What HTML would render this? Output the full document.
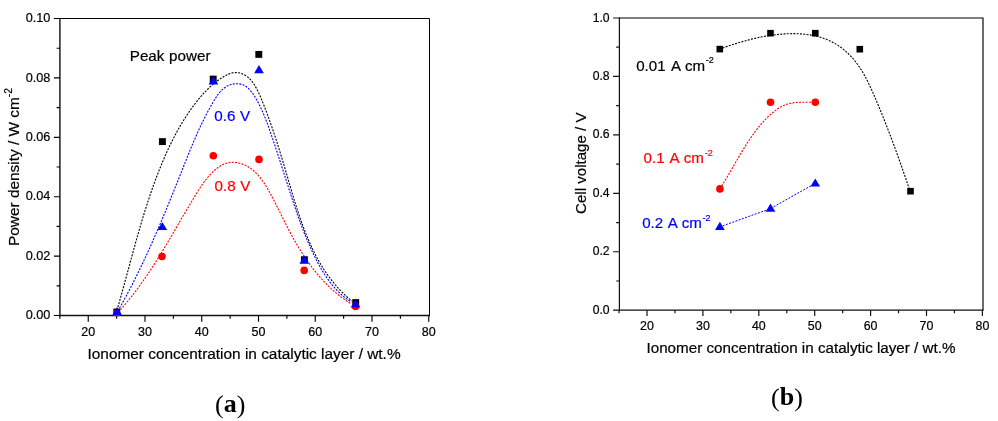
<!DOCTYPE html>
<html><head><meta charset="utf-8"><title>Figure</title>
<style>html,body{margin:0;padding:0;background:#fff}svg{display:block}</style>
</head><body>
<svg width="998" height="421" viewBox="0 0 998 421">
<rect width="998" height="421" fill="#fff"/>
<path d="M59.9,18.5 H429.5 V315.5" fill="none" stroke="#000" stroke-width="1.0" stroke-linejoin="miter"/>
<path d="M59.9,18.0 V315.5 H430.0" fill="none" stroke="#111" stroke-width="1.4"/>
<path d="M59.9,315.50 h-6 M59.9,285.80 h-3.3 M59.9,256.10 h-6 M59.9,226.40 h-3.3 M59.9,196.70 h-6 M59.9,167.00 h-3.3 M59.9,137.30 h-6 M59.9,107.60 h-3.3 M59.9,77.90 h-6 M59.9,48.20 h-3.3 M59.9,18.50 h-6 M59.88,315.5 v3.3 M88.25,315.5 v6.2 M116.62,315.5 v3.3 M145.00,315.5 v6.2 M173.38,315.5 v3.3 M201.75,315.5 v6.2 M230.12,315.5 v3.3 M258.50,315.5 v6.2 M286.88,315.5 v3.3 M315.25,315.5 v6.2 M343.62,315.5 v3.3 M372.00,315.5 v6.2 M400.38,315.5 v3.3 M428.75,315.5 v6.2" stroke="#000" stroke-width="1.15" fill="none"/>
<text x="50.4" y="319.10" font-size="12.7" text-anchor="end" fill="#000" stroke="#000" stroke-width="0.2" font-family="Liberation Sans, Arial, sans-serif" >0.00</text>
<text x="50.4" y="259.70" font-size="12.7" text-anchor="end" fill="#000" stroke="#000" stroke-width="0.2" font-family="Liberation Sans, Arial, sans-serif" >0.02</text>
<text x="50.4" y="200.30" font-size="12.7" text-anchor="end" fill="#000" stroke="#000" stroke-width="0.2" font-family="Liberation Sans, Arial, sans-serif" >0.04</text>
<text x="50.4" y="140.90" font-size="12.7" text-anchor="end" fill="#000" stroke="#000" stroke-width="0.2" font-family="Liberation Sans, Arial, sans-serif" >0.06</text>
<text x="50.4" y="81.50" font-size="12.7" text-anchor="end" fill="#000" stroke="#000" stroke-width="0.2" font-family="Liberation Sans, Arial, sans-serif" >0.08</text>
<text x="50.4" y="22.10" font-size="12.7" text-anchor="end" fill="#000" stroke="#000" stroke-width="0.2" font-family="Liberation Sans, Arial, sans-serif" >0.10</text>
<text x="88.25" y="336" font-size="12.5" text-anchor="middle" fill="#000" stroke="#000" stroke-width="0.2" font-family="Liberation Sans, Arial, sans-serif" >20</text>
<text x="145.00" y="336" font-size="12.5" text-anchor="middle" fill="#000" stroke="#000" stroke-width="0.2" font-family="Liberation Sans, Arial, sans-serif" >30</text>
<text x="201.75" y="336" font-size="12.5" text-anchor="middle" fill="#000" stroke="#000" stroke-width="0.2" font-family="Liberation Sans, Arial, sans-serif" >40</text>
<text x="258.50" y="336" font-size="12.5" text-anchor="middle" fill="#000" stroke="#000" stroke-width="0.2" font-family="Liberation Sans, Arial, sans-serif" >50</text>
<text x="315.25" y="336" font-size="12.5" text-anchor="middle" fill="#000" stroke="#000" stroke-width="0.2" font-family="Liberation Sans, Arial, sans-serif" >60</text>
<text x="372.00" y="336" font-size="12.5" text-anchor="middle" fill="#000" stroke="#000" stroke-width="0.2" font-family="Liberation Sans, Arial, sans-serif" >70</text>
<text x="428.75" y="336" font-size="12.5" text-anchor="middle" fill="#000" stroke="#000" stroke-width="0.2" font-family="Liberation Sans, Arial, sans-serif" >80</text>
<text x="87.5" y="358.7" font-size="15.4" text-anchor="start" fill="#000" stroke="#000" stroke-width="0.2" font-family="Liberation Sans, Arial, sans-serif" >Ionomer concentration in catalytic layer / wt.%</text>
<text transform="translate(19,246) rotate(-90)" font-size="15.4" fill="#000" stroke="#000" stroke-width="0.2" font-family="Liberation Sans, Arial, sans-serif">Power density / W cm<tspan font-size="10.2" dy="-7.2">-2</tspan></text>
<path d="M116.97,310.37 L118.21,306.05 L119.44,301.72 L120.66,297.39 L121.86,293.04 L123.06,288.69 L124.25,284.34 L125.44,279.97 L126.62,275.61 L127.80,271.24 L128.98,266.87 L130.17,262.49 L131.36,258.12 L132.55,253.74 L133.75,249.37 L134.96,244.99 L136.18,240.62 L137.42,236.25 L138.67,231.89 L139.93,227.53 L141.21,223.18 L142.51,218.83 L143.83,214.50 L145.18,210.17 L146.55,205.85 L147.94,201.54 L149.36,197.24 L150.82,192.95 L152.30,188.68 L153.82,184.42 L155.37,180.17 L156.96,175.94 L158.58,171.73 L160.25,167.53 L161.96,163.35 L163.71,159.19 L165.51,155.05 L167.36,150.94 L169.26,146.84 L171.21,142.78 L173.23,138.75 L175.31,134.75 L177.45,130.79 L179.67,126.86 L181.95,122.98 L184.32,119.14 L186.76,115.34 L189.29,111.60 L191.91,107.90 L194.62,104.26 L197.42,100.68 L200.32,97.16 L203.34,93.73 L206.47,90.41 L209.75,87.21 L213.17,84.17 L216.75,81.29 L220.50,78.61 L224.42,76.16 L228.49,74.13 L232.64,72.79 L236.82,72.43 L240.94,73.20 L244.87,75.00 L248.48,77.64 L251.65,80.96 L254.36,84.76 L256.71,88.83 L258.79,93.00 L260.67,97.21 L262.41,101.44 L264.08,105.69 L265.70,109.92 L267.29,114.16 L268.84,118.40 L270.35,122.64 L271.83,126.88 L273.29,131.13 L274.71,135.38 L276.10,139.64 L277.48,143.91 L278.83,148.18 L280.16,152.47 L281.48,156.76 L282.78,161.07 L284.07,165.39 L285.35,169.72 L286.62,174.07 L287.89,178.44 L289.16,182.81 L290.44,187.19 L291.72,191.57 L293.03,195.95 L294.35,200.32 L295.70,204.69 L297.08,209.05 L298.50,213.39 L299.95,217.71 L301.46,222.01 L303.01,226.28 L304.61,230.53 L306.27,234.74 L308.00,238.92 L309.80,243.06 L311.67,247.16 L313.61,251.20 L315.64,255.20 L317.76,259.15 L319.97,263.04 L322.28,266.87 L324.69,270.64 L327.21,274.33 L329.84,277.96 L332.59,281.52 L335.46,284.99 L338.45,288.39 L341.58,291.70 L344.84,294.92 L348.24,298.05 L351.79,301.09" fill="none" stroke="#000" stroke-width="1.1" stroke-dasharray="2 1.3"/>
<path d="M117.90,311.01 L120.03,307.27 L122.13,303.50 L124.20,299.72 L126.25,295.92 L128.28,292.11 L130.28,288.28 L132.26,284.43 L134.21,280.57 L136.14,276.70 L138.06,272.81 L139.95,268.91 L141.82,265.00 L143.67,261.08 L145.50,257.14 L147.32,253.20 L149.12,249.25 L150.90,245.29 L152.66,241.32 L154.41,237.34 L156.15,233.36 L157.87,229.37 L159.58,225.37 L161.27,221.37 L162.96,217.37 L164.63,213.36 L166.29,209.36 L167.94,205.35 L169.58,201.33 L171.22,197.32 L172.84,193.31 L174.46,189.29 L176.07,185.28 L177.68,181.27 L179.27,177.27 L180.87,173.27 L182.46,169.27 L184.05,165.27 L185.63,161.28 L187.23,157.30 L188.83,153.32 L190.45,149.34 L192.10,145.37 L193.77,141.41 L195.47,137.44 L197.21,133.49 L199.00,129.54 L200.83,125.59 L202.72,121.65 L204.67,117.72 L206.69,113.79 L208.77,109.86 L210.94,105.94 L213.18,102.02 L215.53,98.16 L218.05,94.48 L220.80,91.12 L223.84,88.24 L227.25,85.95 L231.04,84.41 L235.06,83.67 L239.10,83.79 L242.97,84.83 L246.48,86.81 L249.63,89.60 L252.45,92.99 L254.99,96.80 L257.29,100.82 L259.38,104.89 L261.31,108.91 L263.09,112.92 L264.74,116.90 L266.30,120.88 L267.78,124.86 L269.21,128.86 L270.61,132.87 L272.00,136.90 L273.38,140.96 L274.75,145.04 L276.11,149.13 L277.46,153.24 L278.81,157.37 L280.15,161.50 L281.49,165.64 L282.82,169.78 L284.15,173.93 L285.47,178.08 L286.80,182.23 L288.13,186.37 L289.46,190.51 L290.79,194.64 L292.13,198.76 L293.49,202.87 L294.86,206.97 L296.25,211.06 L297.66,215.14 L299.10,219.21 L300.58,223.26 L302.09,227.30 L303.63,231.33 L305.23,235.34 L306.87,239.34 L308.56,243.32 L310.30,247.28 L312.11,251.23 L313.97,255.15 L315.91,259.06 L317.92,262.94 L320.01,266.77 L322.20,270.54 L324.49,274.24 L326.89,277.86 L329.42,281.38 L332.07,284.78 L334.86,288.06 L337.81,291.19 L340.91,294.18 L344.17,296.99 L347.61,299.62 L351.24,302.06" fill="none" stroke="#00f" stroke-width="1.1" stroke-dasharray="2 1.3"/>
<path d="M118.12,312.20 L120.31,309.79 L122.46,307.37 L124.58,304.92 L126.67,302.45 L128.73,299.96 L130.75,297.45 L132.75,294.93 L134.71,292.38 L136.65,289.82 L138.57,287.24 L140.46,284.65 L142.32,282.04 L144.17,279.41 L145.99,276.78 L147.79,274.12 L149.57,271.46 L151.33,268.78 L153.07,266.09 L154.80,263.40 L156.52,260.69 L158.22,257.97 L159.90,255.24 L161.58,252.50 L163.24,249.76 L164.90,247.01 L166.54,244.26 L168.18,241.49 L169.82,238.73 L171.44,235.96 L173.07,233.18 L174.69,230.41 L176.31,227.63 L177.93,224.84 L179.55,222.06 L181.17,219.28 L182.79,216.50 L184.42,213.72 L186.05,210.94 L187.69,208.16 L189.33,205.39 L190.99,202.62 L192.65,199.85 L194.32,197.09 L196.00,194.34 L197.70,191.59 L199.43,188.86 L201.21,186.16 L203.04,183.50 L204.94,180.89 L206.93,178.33 L209.02,175.85 L211.23,173.45 L213.58,171.14 L216.06,168.96 L218.66,166.98 L221.39,165.27 L224.24,163.90 L227.20,162.93 L230.24,162.40 L233.34,162.29 L236.46,162.55 L239.54,163.17 L242.56,164.11 L245.48,165.34 L248.25,166.83 L250.87,168.56 L253.34,170.50 L255.67,172.63 L257.87,174.93 L259.96,177.38 L261.95,179.97 L263.84,182.67 L265.64,185.45 L267.36,188.31 L269.02,191.21 L270.63,194.15 L272.19,197.09 L273.72,200.02 L275.21,202.94 L276.68,205.84 L278.13,208.73 L279.57,211.60 L280.99,214.47 L282.41,217.32 L283.83,220.15 L285.26,222.98 L286.69,225.80 L288.13,228.61 L289.59,231.41 L291.08,234.20 L292.59,236.99 L294.14,239.77 L295.71,242.55 L297.33,245.31 L298.98,248.07 L300.67,250.80 L302.40,253.53 L304.16,256.23 L305.96,258.91 L307.81,261.56 L309.69,264.19 L311.62,266.79 L313.59,269.36 L315.60,271.89 L317.65,274.38 L319.75,276.84 L321.89,279.25 L324.08,281.62 L326.32,283.94 L328.60,286.21 L330.93,288.43 L333.31,290.59 L335.74,292.70 L338.22,294.74 L340.75,296.72 L343.33,298.64 L345.96,300.49 L348.65,302.27 L351.39,303.98" fill="none" stroke="#f00" stroke-width="1.1" stroke-dasharray="2 1.3"/>
<clipPath id="ca"><rect x="60" y="18" width="370" height="298.2"/></clipPath><g clip-path="url(#ca)">
<rect x="113.35" y="308.55" width="6.9" height="6.9" fill="#000"/>
<rect x="158.95" y="138.15" width="6.9" height="6.9" fill="#000"/>
<rect x="209.75" y="75.65" width="6.9" height="6.9" fill="#000"/>
<rect x="255.35" y="50.95" width="6.9" height="6.9" fill="#000"/>
<rect x="300.95" y="256.25" width="6.9" height="6.9" fill="#000"/>
<rect x="352.25" y="299.15" width="6.9" height="6.9" fill="#000"/>
<circle cx="116.80" cy="313.50" r="3.8" fill="#f00"/>
<circle cx="162.00" cy="256.50" r="3.8" fill="#f00"/>
<circle cx="213.30" cy="155.80" r="3.8" fill="#f00"/>
<circle cx="259.00" cy="159.40" r="3.8" fill="#f00"/>
<circle cx="304.20" cy="270.40" r="3.8" fill="#f00"/>
<circle cx="355.60" cy="306.50" r="3.8" fill="#f00"/>
<path d="M117.10,307.00 L121.95,315.20 L112.25,315.20 Z" fill="#00f"/>
<path d="M162.30,222.00 L167.15,230.10 L157.45,230.10 Z" fill="#00f"/>
<path d="M213.40,76.30 L218.25,84.40 L208.55,84.40 Z" fill="#00f"/>
<path d="M259.00,64.90 L263.85,73.20 L254.15,73.20 Z" fill="#00f"/>
<path d="M304.30,255.60 L309.15,263.80 L299.45,263.80 Z" fill="#00f"/>
<path d="M355.50,299.80 L360.35,307.60 L350.65,307.60 Z" fill="#00f"/>
</g>
<text font-size="15.2" fill="#000" stroke="#000" stroke-width="0.2" font-family="Liberation Sans, Arial, sans-serif"><tspan x="129.75" y="60.90">Peak</tspan> <tspan x="169.12" y="60.90">power</tspan></text>
<text font-size="15.2" fill="#00f" stroke="#00f" stroke-width="0.2" font-family="Liberation Sans, Arial, sans-serif"><tspan x="214.31" y="120.90">0.6</tspan> <tspan x="240.03" y="120.90">V</tspan></text>
<text font-size="15.2" fill="#f00" stroke="#f00" stroke-width="0.2" font-family="Liberation Sans, Arial, sans-serif"><tspan x="214.61" y="191.00">0.8</tspan> <tspan x="240.33" y="191.00">V</tspan></text>
<path d="M619.4,18.0 H983.0 V310.2" fill="none" stroke="#000" stroke-width="1.15" stroke-linejoin="miter"/>
<path d="M619.4,17.425 V310.2 H983.575" fill="none" stroke="#111" stroke-width="1.2"/>
<path d="M619.4,310.20 h-6.3 M619.4,280.98 h-3.2 M619.4,251.76 h-6.3 M619.4,222.54 h-3.2 M619.4,193.32 h-6.3 M619.4,164.10 h-3.2 M619.4,134.88 h-6.3 M619.4,105.66 h-3.2 M619.4,76.44 h-6.3 M619.4,47.22 h-3.2 M619.4,18.00 h-6.3 M619.05,310.2 v3.0 M647.00,310.2 v5.9 M674.95,310.2 v3.0 M702.90,310.2 v5.9 M730.85,310.2 v3.0 M758.80,310.2 v5.9 M786.75,310.2 v3.0 M814.70,310.2 v5.9 M842.65,310.2 v3.0 M870.60,310.2 v5.9 M898.55,310.2 v3.0 M926.50,310.2 v5.9 M954.45,310.2 v3.0 M982.40,310.2 v5.9" stroke="#111" stroke-width="1.2" fill="none"/>
<text x="609.6" y="313.80" font-size="12.2" text-anchor="end" fill="#000" stroke="#000" stroke-width="0.2" font-family="Liberation Sans, Arial, sans-serif" >0.0</text>
<text x="609.6" y="255.36" font-size="12.2" text-anchor="end" fill="#000" stroke="#000" stroke-width="0.2" font-family="Liberation Sans, Arial, sans-serif" >0.2</text>
<text x="609.6" y="196.92" font-size="12.2" text-anchor="end" fill="#000" stroke="#000" stroke-width="0.2" font-family="Liberation Sans, Arial, sans-serif" >0.4</text>
<text x="609.6" y="138.48" font-size="12.2" text-anchor="end" fill="#000" stroke="#000" stroke-width="0.2" font-family="Liberation Sans, Arial, sans-serif" >0.6</text>
<text x="609.6" y="80.04" font-size="12.2" text-anchor="end" fill="#000" stroke="#000" stroke-width="0.2" font-family="Liberation Sans, Arial, sans-serif" >0.8</text>
<text x="609.6" y="21.60" font-size="12.2" text-anchor="end" fill="#000" stroke="#000" stroke-width="0.2" font-family="Liberation Sans, Arial, sans-serif" >1.0</text>
<text x="647.00" y="330" font-size="12.4" text-anchor="middle" fill="#000" stroke="#000" stroke-width="0.2" font-family="Liberation Sans, Arial, sans-serif" >20</text>
<text x="702.90" y="330" font-size="12.4" text-anchor="middle" fill="#000" stroke="#000" stroke-width="0.2" font-family="Liberation Sans, Arial, sans-serif" >30</text>
<text x="758.80" y="330" font-size="12.4" text-anchor="middle" fill="#000" stroke="#000" stroke-width="0.2" font-family="Liberation Sans, Arial, sans-serif" >40</text>
<text x="814.70" y="330" font-size="12.4" text-anchor="middle" fill="#000" stroke="#000" stroke-width="0.2" font-family="Liberation Sans, Arial, sans-serif" >50</text>
<text x="870.60" y="330" font-size="12.4" text-anchor="middle" fill="#000" stroke="#000" stroke-width="0.2" font-family="Liberation Sans, Arial, sans-serif" >60</text>
<text x="926.50" y="330" font-size="12.4" text-anchor="middle" fill="#000" stroke="#000" stroke-width="0.2" font-family="Liberation Sans, Arial, sans-serif" >70</text>
<text x="982.40" y="330" font-size="12.4" text-anchor="middle" fill="#000" stroke="#000" stroke-width="0.2" font-family="Liberation Sans, Arial, sans-serif" >80</text>
<text x="646.5" y="353.2" font-size="15.2" text-anchor="start" fill="#000" stroke="#000" stroke-width="0.2" font-family="Liberation Sans, Arial, sans-serif" >Ionomer concentration in catalytic layer / wt.%</text>
<text transform="translate(586.3,214) rotate(-90)" font-size="15.1" fill="#000" stroke="#000" stroke-width="0.2" font-family="Liberation Sans, Arial, sans-serif">Cell voltage / V</text>
<path d="M719.46,49.04 L721.79,48.22 L724.11,47.41 L726.42,46.62 L728.73,45.84 L731.04,45.08 L733.34,44.34 L735.64,43.61 L737.94,42.90 L740.25,42.22 L742.55,41.55 L744.85,40.91 L747.16,40.28 L749.47,39.68 L751.79,39.10 L754.11,38.55 L756.44,38.02 L758.78,37.51 L761.12,37.04 L763.47,36.59 L765.84,36.16 L768.21,35.77 L770.60,35.40 L773.00,35.07 L775.41,34.76 L777.83,34.49 L780.27,34.25 L782.71,34.05 L785.16,33.89 L787.61,33.77 L790.07,33.69 L792.52,33.65 L794.98,33.67 L797.43,33.73 L799.87,33.84 L802.30,34.01 L804.73,34.23 L807.14,34.51 L809.53,34.85 L811.91,35.26 L814.27,35.72 L816.61,36.25 L818.93,36.86 L821.22,37.53 L823.48,38.27 L825.71,39.09 L827.92,39.98 L830.09,40.96 L832.22,42.01 L834.31,43.15 L836.37,44.37 L838.38,45.66 L840.35,47.03 L842.28,48.47 L844.16,49.98 L845.99,51.55 L847.77,53.18 L849.50,54.86 L851.18,56.60 L852.80,58.39 L854.36,60.23 L855.87,62.11 L857.32,64.03 L858.72,65.99 L860.07,67.98 L861.37,70.01 L862.63,72.07 L863.85,74.16 L865.03,76.27 L866.18,78.41 L867.29,80.57 L868.38,82.75 L869.43,84.94 L870.46,87.15 L871.48,89.37 L872.47,91.60 L873.45,93.83 L874.41,96.07 L875.36,98.32 L876.31,100.56 L877.25,102.80 L878.18,105.04 L879.11,107.28 L880.03,109.52 L880.94,111.76 L881.85,114.00 L882.75,116.24 L883.65,118.48 L884.54,120.72 L885.42,122.96 L886.30,125.20 L887.18,127.44 L888.04,129.68 L888.91,131.93 L889.76,134.17 L890.62,136.42 L891.47,138.67 L892.31,140.92 L893.15,143.17 L893.99,145.42 L894.82,147.67 L895.64,149.93 L896.47,152.19 L897.29,154.45 L898.10,156.71 L898.92,158.98 L899.72,161.25 L900.53,163.52 L901.33,165.79 L902.13,168.07 L902.93,170.35 L903.72,172.64 L904.51,174.93 L905.30,177.22 L906.09,179.51 L906.87,181.81 L907.66,184.12 L908.44,186.42 L909.22,188.74 L909.99,191.05" fill="none" stroke="#000" stroke-width="1.1" stroke-dasharray="2 1.3"/>
<path d="M719.82,188.79 L720.45,187.83 L721.07,186.87 L721.69,185.91 L722.31,184.95 L722.92,183.98 L723.53,183.00 L724.14,182.02 L724.75,181.04 L725.35,180.06 L725.95,179.07 L726.54,178.08 L727.14,177.08 L727.73,176.09 L728.32,175.09 L728.91,174.09 L729.49,173.09 L730.08,172.08 L730.66,171.07 L731.25,170.06 L731.83,169.06 L732.41,168.04 L733.00,167.03 L733.58,166.02 L734.16,165.01 L734.74,163.99 L735.33,162.98 L735.91,161.96 L736.49,160.95 L737.08,159.94 L737.66,158.92 L738.25,157.91 L738.84,156.90 L739.43,155.89 L740.02,154.88 L740.62,153.87 L741.22,152.86 L741.82,151.85 L742.42,150.85 L743.02,149.85 L743.63,148.85 L744.24,147.85 L744.86,146.86 L745.48,145.87 L746.10,144.88 L746.72,143.89 L747.35,142.91 L747.99,141.93 L748.63,140.95 L749.27,139.98 L749.92,139.02 L750.57,138.05 L751.23,137.09 L751.89,136.14 L752.56,135.19 L753.24,134.24 L753.92,133.30 L754.61,132.37 L755.30,131.44 L756.00,130.52 L756.71,129.60 L757.43,128.69 L758.15,127.78 L758.88,126.88 L759.61,125.99 L760.36,125.11 L761.11,124.23 L761.87,123.35 L762.63,122.49 L763.41,121.63 L764.20,120.78 L764.99,119.94 L765.79,119.11 L766.60,118.28 L767.43,117.46 L768.26,116.65 L769.10,115.85 L769.95,115.06 L770.81,114.28 L771.68,113.51 L772.56,112.75 L773.45,112.00 L774.36,111.28 L775.28,110.57 L776.21,109.87 L777.15,109.21 L778.10,108.56 L779.07,107.94 L780.06,107.34 L781.06,106.78 L782.07,106.24 L783.10,105.74 L784.14,105.27 L785.20,104.84 L786.28,104.45 L787.38,104.09 L788.49,103.77 L789.61,103.50 L790.75,103.25 L791.90,103.04 L793.07,102.86 L794.24,102.70 L795.41,102.58 L796.60,102.48 L797.79,102.40 L798.98,102.33 L800.17,102.29 L801.36,102.26 L802.56,102.24 L803.75,102.23 L804.94,102.22 L806.12,102.22 L807.30,102.22 L808.47,102.21 L809.63,102.20 L810.79,102.19 L811.93,102.16 L813.06,102.12 L814.18,102.07 L815.28,101.99" fill="none" stroke="#f00" stroke-width="1.1" stroke-dasharray="2 1.3"/>
<path d="M719.5,227 L770,208.8 L815,183.5" fill="none" stroke="#00f" stroke-width="1" stroke-dasharray="2 1.4"/>
<rect x="716.50" y="45.80" width="6.6" height="6.6" fill="#000"/>
<rect x="767.20" y="29.90" width="6.6" height="6.6" fill="#000"/>
<rect x="812.00" y="29.90" width="6.6" height="6.6" fill="#000"/>
<rect x="856.50" y="45.90" width="6.6" height="6.6" fill="#000"/>
<rect x="907.20" y="187.90" width="6.6" height="6.6" fill="#000"/>
<circle cx="719.90" cy="188.90" r="3.8" fill="#f00"/>
<circle cx="770.50" cy="102.20" r="3.8" fill="#f00"/>
<circle cx="815.30" cy="102.20" r="3.8" fill="#f00"/>
<path d="M719.90,221.80 L724.75,230.00 L715.05,230.00 Z" fill="#00f"/>
<path d="M770.50,203.60 L775.35,211.70 L765.65,211.70 Z" fill="#00f"/>
<path d="M815.30,178.40 L820.15,186.40 L810.45,186.40 Z" fill="#00f"/>
<text font-size="15.1" fill="#000" stroke="#000" stroke-width="0.2" font-family="Liberation Sans, Arial, sans-serif"><tspan x="636.21" y="70.90">0.01</tspan> <tspan x="670.97" y="70.90">A</tspan> <tspan x="684.96" y="70.90">cm</tspan><tspan x="705.80" y="62.90" font-size="9.0">-2</tspan></text>
<text font-size="15.1" fill="#f00" stroke="#f00" stroke-width="0.2" font-family="Liberation Sans, Arial, sans-serif"><tspan x="643.61" y="162.50">0.1</tspan> <tspan x="669.57" y="162.50">A</tspan> <tspan x="683.76" y="162.50">cm</tspan><tspan x="704.80" y="156.20" font-size="9.0">-2</tspan></text>
<text font-size="15.1" fill="#00f" stroke="#00f" stroke-width="0.2" font-family="Liberation Sans, Arial, sans-serif"><tspan x="642.21" y="227.50">0.2</tspan> <tspan x="667.67" y="227.50">A</tspan> <tspan x="681.76" y="227.50">cm</tspan><tspan x="702.60" y="220.90" font-size="9.0">-2</tspan></text>
<text x="215" y="412.85" font-size="26" fill="#000" font-family="Liberation Serif, Times New Roman, serif">(<tspan font-weight="bold" dy="-1.2">a</tspan><tspan dy="1.2">)</tspan></text>
<text x="771" y="405.75" font-size="26" fill="#000" font-family="Liberation Serif, Times New Roman, serif">(<tspan font-weight="bold" dy="-1.2">b</tspan><tspan dy="1.2">)</tspan></text>
</svg>
</body></html>
